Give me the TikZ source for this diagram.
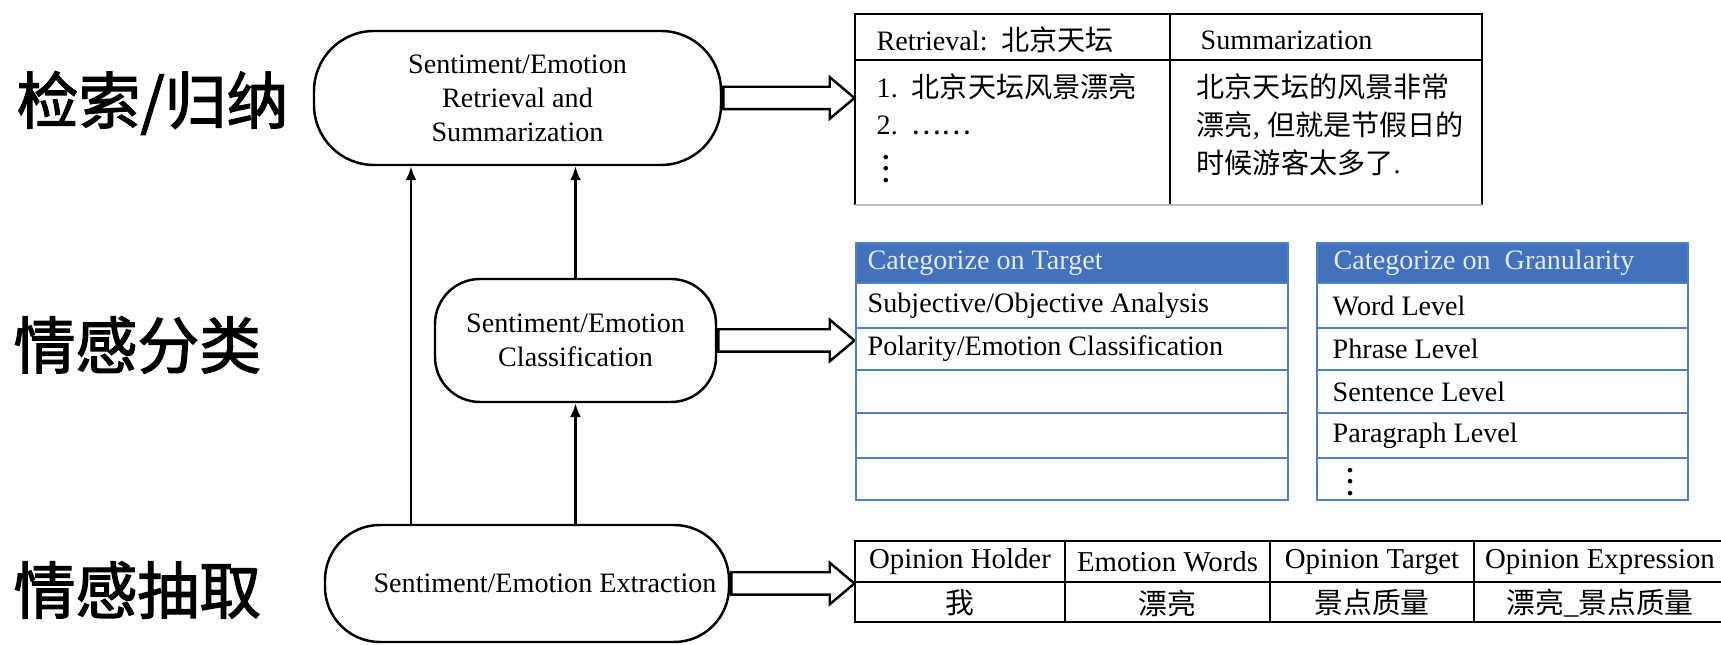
\documentclass[tikz,border=0pt]{standalone}
\usepackage{fontspec}
\setmainfont{Liberation Serif}
\newfontfamily\cjk{Noto Sans CJK SC}
\newfontfamily\cjkhead[FakeBold=2]{Noto Sans CJK SC}
\usetikzlibrary{arrows.meta,shapes.arrows}
\definecolor{hdblue}{RGB}{66,114,188}
\definecolor{lnblue}{RGB}{82,128,198}
\definecolor{hdtext}{RGB}{226,233,243}
\newcommand\vdotsx{\vbox{\baselineskip3.2pt\lineskiplimit0pt\hbox{\textbf{.}}\hbox{\textbf{.}}\hbox{\textbf{.}}}}
\tikzset{
	stage/.style={draw, line width=0.7pt, align=center, inner sep=0pt, font=\fontsize{8}{9.7}\selectfont},
	hollow/.style={draw, single arrow, anchor=tail, line width=0.7pt, fill=white, inner xsep=0pt, inner ysep=0.1cm,
		minimum width=0pt, single arrow head extend=0.095cm, single arrow tip angle=80},
	uparrow/.style={line width=0.7pt, -{Latex[length=1.4mm,width=1.1mm]}},
	tabline/.style={line width=0.6pt},
	blueline/.style={draw=lnblue, line width=0.5pt},
	cell/.style={anchor=west, inner sep=0pt, font=\fontsize{8}{10.8}\selectfont},
	ccell/.style={inner sep=0pt, font=\fontsize{8.2}{10}\selectfont},
	dots/.style={inner sep=0pt, font=\fontsize{8}{10}\selectfont},
	stagename/.style={anchor=west, inner sep=0pt, font=\cjkhead\fontsize{17.6}{20}\selectfont}
}
\begin{document}
\begin{tikzpicture}
	\useasboundingbox (0,0) rectangle (17.21,-6.45);
	\path (0.16,-1.03) node[stagename] (l1){检索/归纳}
		(0.13,-3.45) node[stagename] (l2){情感分类}
		(0.13,-5.90) node[stagename] (l3){情感抽取};

	\path (5.175,-0.98) node[stage, minimum width=4.07cm, minimum height=1.34cm, rounded corners=0.6cm] (ret){Sentiment/Emotion\\Retrieval and\\Summarization}
		(5.755,-3.405) node[stage, minimum width=2.81cm, minimum height=1.23cm, rounded corners=0.45cm] (cls){Sentiment/Emotion\\Classification}
		(5.27,-5.835) node[stage, minimum width=4.04cm, minimum height=1.17cm, rounded corners=0.55cm] (ext){\hspace*{0.36cm}Sentiment/Emotion Extraction};

	\coordinate (lx) at (4.11,0);
	\draw[uparrow] (ext.north -| lx) -- (ret.south -| lx);
	\draw[uparrow] (ext.north -| cls) -- (cls.south);
	\draw[uparrow] (cls.north) -- (ret.south -| cls);

	\node[hollow, minimum height=1.31cm] (a1) at (ret.east) {};
	\node[hollow, minimum height=1.36cm] (a2) at (cls.east) {};
	\node[hollow, minimum height=1.23cm] (a3) at (ext.east) {};

	% retrieval / summarization table
	\draw[tabline] (8.55,-2.05) -- (8.55,-0.14) -- (14.82,-0.14) -- (14.82,-2.05)
		(8.55,-0.60) -- (14.82,-0.60)
		(11.70,-0.14) -- (11.70,-2.05);
	\draw[gray!50, line width=0.3pt] (8.55,-2.05) -- (14.82,-2.05);
	\path (8.76,-0.40) node[cell] (rh){Retrieval:\ \ {\cjk 北京天坛}}
		(12.00,-0.40) node[cell] (sh){Summarization}
		(8.76,-0.87) node[cell] (r1){1.\ \ {\cjk 北京天坛风景漂亮}}
		(8.76,-1.25) node[cell] (r2){2.\ \ {\cjk ……}}
		(8.86,-1.69) node[dots] (r3){\vdotsx}
		(11.96,-1.25) node[cell, align=left] (sm){{\cjk 北京天坛的风景非常}\\{\cjk 漂亮}, {\cjk 但就是节假日的}\\{\cjk 时候游客太多了}.};

	% classification tables
	\fill[hdblue] (8.56,-2.43) rectangle (12.88,-2.83);
	\fill[hdblue] (13.17,-2.43) rectangle (16.88,-2.83);
	\draw[blueline] (8.56,-2.43) rectangle (12.88,-5.00);
	\draw[blueline] (13.17,-2.43) rectangle (16.88,-5.00);
	\foreach \y in {-2.83,-3.28,-3.70,-4.13,-4.58}
		\draw[blueline] (8.56,\y) -- (12.88,\y) (13.17,\y) -- (16.88,\y);
	\path (8.67,-2.63) node[cell, text=hdtext] (th){Categorize on Target}
		(8.67,-3.055) node[cell] (t1){Subjective/Objective Analysis}
		(8.67,-3.49) node[cell] (t2){Polarity/Emotion Classification}
		(13.33,-2.63) node[cell, text=hdtext] (gh){Categorize on\ \ Granularity}
		(13.32,-3.055) node[cell] (g1){Word Level}
		(13.32,-3.49) node[cell] (g2){Phrase Level}
		(13.32,-3.915) node[cell] (g3){Sentence Level}
		(13.32,-4.355) node[cell] (g4){Paragraph Level}
		(13.50,-4.82) node[dots] (g5){\vdotsx};

	% extraction table
	\draw[tabline] (17.21,-5.41) -- (8.55,-5.41) -- (8.55,-6.22) -- (17.21,-6.22)
		(8.55,-5.82) -- (17.21,-5.82);
	\foreach \x in {10.65,12.70,14.74}
		\draw[tabline] (\x,-5.41) -- (\x,-6.22);
	\path (9.60,-5.62) node[ccell] (oh){Opinion Holder}
		(11.675,-5.62) node[ccell] (ew){Emotion Words}
		(13.72,-5.62) node[ccell] (ot){Opinion Target}
		(16.00,-5.62) node[ccell] (oe){Opinion Expression}
		(9.60,-6.03) node[ccell] (v1){\cjk 我}
		(11.675,-6.03) node[ccell] (v2){\cjk 漂亮}
		(13.72,-6.03) node[ccell] (v3){\cjk 景点质量}
		(16.00,-6.03) node[ccell] (v4){{\cjk 漂亮}\_{\cjk 景点质量}};
\end{tikzpicture}
\end{document}
